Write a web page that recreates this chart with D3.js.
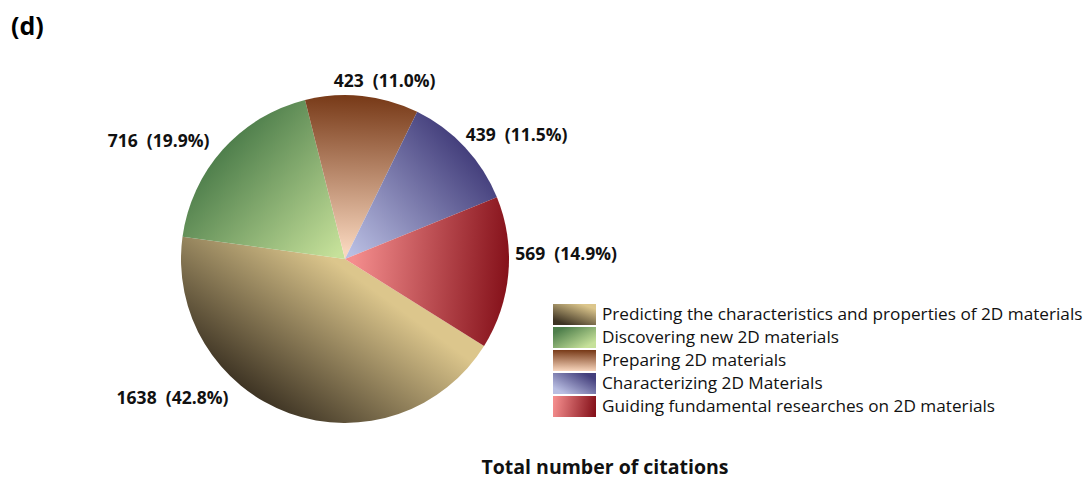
<!DOCTYPE html>
<html>
<head>
<meta charset="utf-8">
<script src="https://cdn.jsdelivr.net/npm/d3@7"></script>
<style>
  html, body { margin: 0; padding: 0; background: #fff; }
  svg { display: block; }
  text { font-family: "Open Sans", "Noto Sans", sans-serif; white-space: pre; }
</style>
</head>
<body>
<svg id="chart" width="1088" height="479"></svg>
<script>
// Citation counts by research direction
const categories = [
  "Predicting the characteristics and properties of 2D materials",
  "Discovering new 2D materials",
  "Preparing 2D materials",
  "Characterizing 2D Materials",
  "Guiding fundamental researches on 2D materials"
];
const citations = [1638, 716, 423, 439, 569];
const percentLabels = ["42.8%", "19.9%", "11.0%", "11.5%", "14.9%"];

// Light (centre) and dark (rim) shades for each slice
const lightColors = ["#dcc68c", "#c6e19a", "#f8d6bd", "#b9bee2", "#f48d8d"];
const darkColors  = ["#3e3424", "#4f7f4c", "#773917", "#443f7c", "#85111a"];
// Direction (degrees, screen) in which each slice darkens
const shadeAngles = [126, 222, 272, 318, 4];

const cx = 345, cy = 259, R = 164;
const svg = d3.select("#chart");
const defs = svg.append("defs");

// Slices run clockwise from the lower right
const start = 122 * Math.PI / 180;
const pie = d3.pie().sort(null).value(d => d)
  .startAngle(start)
  .endAngle(start + 2 * Math.PI);
const arcs = pie(citations);
const arc = d3.arc().innerRadius(0).outerRadius(R);

const rad = a => a * Math.PI / 180;

arcs.forEach((a, i) => {
  const t = rad(shadeAngles[i]);
  // Slice gradient in the pie group's own coordinates (origin = centre)
  const g = defs.append("linearGradient")
    .attr("id", "slice" + i)
    .attr("gradientUnits", "userSpaceOnUse")
    .attr("x1", Math.cos(t) * R * 0.05).attr("y1", Math.sin(t) * R * 0.05)
    .attr("x2", Math.cos(t) * R).attr("y2", Math.sin(t) * R);
  g.append("stop").attr("offset", 0).attr("stop-color", lightColors[i]);
  g.append("stop").attr("offset", 1).attr("stop-color", darkColors[i]);

  // Swatch version of the same shading
  const s = defs.append("linearGradient")
    .attr("id", "swatch" + i)
    .attr("x1", 0.5 - Math.cos(t) * 0.5).attr("y1", 0.5 - Math.sin(t) * 0.5)
    .attr("x2", 0.5 + Math.cos(t) * 0.5).attr("y2", 0.5 + Math.sin(t) * 0.5);
  s.append("stop").attr("offset", 0).attr("stop-color", lightColors[i]);
  s.append("stop").attr("offset", 1).attr("stop-color", darkColors[i]);
});

svg.append("g")
  .attr("transform", `translate(${cx},${cy})`)
  .selectAll("path")
  .data(arcs)
  .join("path")
  .attr("d", arc)
  .attr("fill", (d, i) => `url(#slice${i})`);

// Data labels, placed beside their slices (offset from pie centre)
const labelOffsets = [[-172.5, 145], [-186.5, -112], [39.5, -172], [171.5, -118], [221, 1]];
svg.append("g").selectAll("text")
  .data(arcs)
  .join("text")
  .attr("x", (d, i) => cx + labelOffsets[i][0])
  .attr("y", (d, i) => cy + labelOffsets[i][1])
  .attr("text-anchor", "middle")
  .attr("font-size", 17.5)
  .attr("font-weight", 700)
  .attr("fill", "#111")
  .text((d, i) => `${d.data}  (${percentLabels[i]})`);

// Legend
const legend = svg.append("g").attr("transform", "translate(553,304)");
const rowH = 23;
const rows = legend.selectAll("g")
  .data(categories)
  .join("g")
  .attr("transform", (d, i) => `translate(0,${i * rowH})`);
rows.append("rect")
  .attr("width", 43).attr("height", 21)
  .attr("fill", (d, i) => `url(#swatch${i})`);
rows.append("text")
  .attr("x", 49).attr("y", 16)
  .attr("font-size", 17.2)
  .attr("fill", "#111")
  .text(d => d);

// Panel tag and caption
svg.append("text")
  .attr("x", 11).attr("y", 35)
  .attr("font-size", 25).attr("font-weight", 700)
  .text("(d)");
svg.append("text")
  .attr("x", 605).attr("y", 474)
  .attr("text-anchor", "middle")
  .attr("font-size", 19.5).attr("font-weight", 700)
  .attr("fill", "#111")
  .text("Total number of citations");
</script>
</body>
</html>
